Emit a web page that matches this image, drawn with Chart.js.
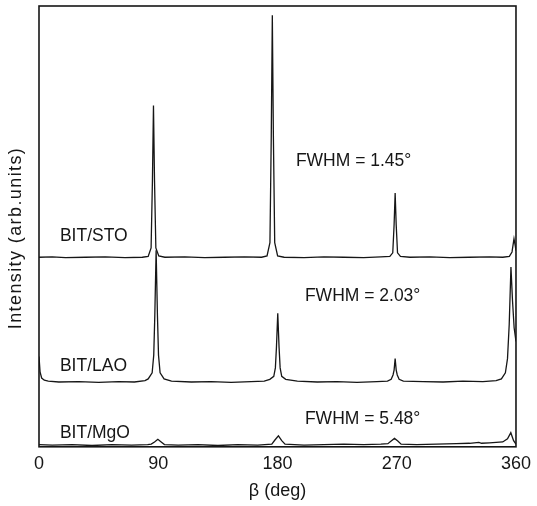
<!DOCTYPE html>
<html>
<head>
<meta charset="utf-8">
<script src="https://cdn.jsdelivr.net/npm/chart.js@4/dist/chart.umd.min.js"></script>
<style>
  html, body { margin: 0; padding: 0; background: #fff; }
  #wrap { width: 537px; height: 506px; }
</style>
</head>
<body>
<div id="wrap"><canvas id="phiChart"></canvas></div>
<script>
// phi-scan traces (angle in deg, stacked intensity in arb. units)
const stoAngle = [0, 10, 20, 35, 50, 65, 78, 82.4, 84.6, 85.6, 86.4, 87.2, 88.2, 90.4, 95, 110, 125, 140, 155, 168,
  172.1, 174.3, 175.3, 176.1, 176.9, 177.9, 180.1, 185, 200, 215, 230, 245, 258,
  264.8, 267.0, 268.0, 268.8, 269.6, 270.6, 272.8, 280, 295, 310, 325, 340, 350, 355, 357.0, 358.5, 359.5, 360];
const stoInt = [43.0, 43.1, 42.9, 43.0, 43.1, 42.9, 43.0, 43.2, 45.1, 60.2, 77.4, 60.2, 45.1, 43.3, 43.0, 43.1, 42.9, 43.0, 43.1, 43.0,
  43.3, 46.3, 70.5, 97.9, 70.5, 46.3, 43.3, 43.0, 42.9, 43.1, 43.0, 42.9, 43.1,
  43.2, 44.0, 50.3, 57.6, 50.3, 44.0, 43.2, 43.0, 43.1, 42.9, 43.0, 43.1, 43.0, 43.2, 44.2, 47.2, 45.5, 44.5];

const laoAngle = [0, 0.8, 2, 4, 7, 15, 30, 45, 60, 72, 80, 82.4, 85.4, 86.6, 87.4, 88.4, 89.4, 90.2, 91.4, 94.4,
  100, 115, 130, 145, 160, 170, 174.2, 177.2, 178.4, 179.2, 180.2, 181.2, 182.0, 183.2, 186.2,
  195, 210, 225, 240, 255, 263, 265.8, 267.2, 268.0, 268.8, 269.6, 270.4, 271.8, 275,
  290, 305, 320, 335, 345, 349, 352, 353.6, 354.9, 356.2, 357.4, 358.6, 360];
const laoInt = [20.5, 17.0, 15.6, 15.1, 14.9, 14.7, 14.8, 14.6, 14.8, 14.7, 15.0, 15.4, 16.8, 20.8, 29.7, 44.6, 29.7, 20.8, 16.8, 15.4,
  14.9, 14.7, 14.8, 14.6, 14.8, 14.9, 15.3, 16.0, 17.9, 22.5, 30.3, 22.5, 17.9, 16.0, 15.3,
  14.9, 14.7, 14.8, 14.6, 14.8, 14.9, 15.3, 16.3, 17.4, 20.0, 17.4, 16.3, 15.3, 14.9,
  14.8, 14.7, 14.9, 14.8, 15.0, 15.4, 16.8, 20.0, 27.8, 40.8, 33.0, 27.0, 23.9];

const mgoAngle = [0, 10, 25, 40, 55, 70, 82, 84.7, 87.2, 89.7, 92.2, 94.7, 105, 120, 135, 150, 165,
  175.7, 178.2, 180.7, 183.2, 185.7, 200, 215, 230, 245, 258, 263.3, 265.8, 268.3, 270.8, 273.3,
  285, 300, 315, 325, 332, 334, 340, 345, 350, 353.6, 356.1, 358.2, 360];
const mgoInt = [0.5, 0.4, 0.5, 0.3, 0.5, 0.4, 0.5, 0.6, 1.1, 1.7, 1.1, 0.5, 0.4, 0.5, 0.3, 0.5, 0.4,
  0.6, 1.6, 2.5, 1.4, 0.6, 0.4, 0.5, 0.6, 0.5, 0.6, 0.7, 1.3, 1.9, 1.3, 0.6,
  0.5, 0.6, 0.7, 0.8, 1.0, 0.8, 0.9, 1.0, 1.1, 1.8, 3.2, 1.4, 0.6];

const xTicks = [0, 90, 180, 270, 360];

// text placed on the plot, in data units
const notes = [
  { text: "BIT/STO", x: 15.8, y: 47.8 },
  { text: "FWHM = 1.45°", x: 193.9, y: 64.7 },
  { text: "FWHM = 2.03°", x: 200.7, y: 34.2 },
  { text: "BIT/LAO", x: 15.8, y: 18.2 },
  { text: "FWHM = 5.48°", x: 200.7, y: 6.2 },
  { text: "BIT/MgO", x: 15.8, y: 3.2 }
];

const FONT = "'Liberation Sans', Arial, Helvetica, sans-serif";
const INK = "#161616";

function toPoints(xs, ys) {
  return xs.map((x, i) => ({ x: x, y: ys[i] }));
}

function trace(label, xs, ys) {
  return {
    label: label,
    data: toPoints(xs, ys),
    borderColor: INK,
    borderWidth: 1.3,
    pointRadius: 0,
    tension: 0,
    fill: false
  };
}

// frame box, y title and in-plot labels
const decorations = {
  id: "decorations",
  afterDatasetsDraw(chart) {
    const { ctx, chartArea: a, scales } = chart;
    ctx.save();
    ctx.strokeStyle = INK;
    ctx.lineWidth = 1.6;
    ctx.strokeRect(a.left, a.top, a.right - a.left, a.bottom - a.top);

    ctx.fillStyle = INK;
    ctx.font = "17.5px " + FONT;
    ctx.textAlign = "left";
    ctx.textBaseline = "middle";
    notes.forEach(n => {
      ctx.fillText(n.text, scales.x.getPixelForValue(n.x), scales.y.getPixelForValue(n.y));
    });

    ctx.translate(16, 238);
    ctx.rotate(-Math.PI / 2);
    ctx.font = "18px " + FONT;
    ctx.textAlign = "center";
    if ("letterSpacing" in ctx) ctx.letterSpacing = "1.4px";
    ctx.fillText("Intensity (arb.units)", 0, 0);
    ctx.restore();
  }
};

new Chart(document.getElementById("phiChart"), {
  type: "line",
  data: {
    datasets: [
      trace("BIT/STO", stoAngle, stoInt),
      trace("BIT/LAO", laoAngle, laoInt),
      trace("BIT/MgO", mgoAngle, mgoInt)
    ]
  },
  options: {
    responsive: true,
    maintainAspectRatio: false,
    animation: false,
    layout: { padding: { left: 39, right: 19, top: 6, bottom: 4 } },
    plugins: {
      legend: { display: false },
      tooltip: { enabled: false }
    },
    scales: {
      x: {
        type: "linear",
        min: 0,
        max: 360,
        afterBuildTicks: axis => { axis.ticks = xTicks.map(v => ({ value: v })); },
        grid: { display: false, drawTicks: false },
        border: { display: false },
        ticks: {
          color: INK,
          padding: 6,
          maxRotation: 0,
          font: { family: FONT, size: 18 }
        },
        title: {
          display: true,
          text: "β (deg)",
          color: INK,
          padding: { top: 0, bottom: 0 },
          font: { family: FONT, size: 18 }
        }
      },
      y: {
        display: false,
        min: 0,
        max: 100
      }
    }
  },
  plugins: [decorations]
});
</script>
</body>
</html>
